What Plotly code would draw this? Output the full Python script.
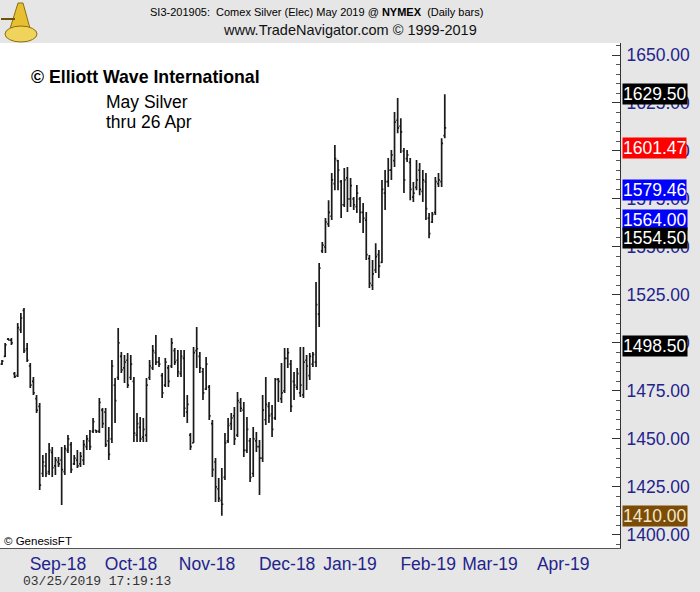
import plotly.graph_objects as go

# ---- data ----
highs = [1491.1, 1500.0, 1502.6, 1502.6, 1484.9, 1510.4, 1515.6, 1518.2, 1500.0, 1489.5,
         1482.3, 1472.9, 1468.7, 1441.6, 1442.7, 1447.9, 1445.8, 1440.6, 1440.6, 1445.8,
         1446.8, 1452.1, 1448.4, 1441.6, 1444.2, 1443.2, 1449.4, 1452.1, 1454.7, 1460.9,
         1454.7, 1471.3, 1466.1, 1466.1, 1456.2, 1491.1, 1481.7, 1507.8, 1495.3, 1493.7,
         1494.8, 1493.7, 1482.3, 1463.5, 1461.4, 1460.9, 1481.7, 1491.1, 1498.9, 1504.1,
         1492.7, 1484.3, 1492.2, 1488.5, 1502.6, 1497.4, 1496.3, 1496.3, 1496.3, 1472.9,
         1453.1, 1497.9, 1508.3, 1495.3, 1486.9, 1492.7, 1478.1, 1459.9, 1440.1, 1429.7,
         1434.9, 1453.1, 1460.9, 1463.5, 1466.6, 1474.4, 1471.3, 1469.2, 1461.4, 1450.5,
         1456.2, 1453.6, 1449.4, 1472.9, 1482.3, 1469.2, 1467.7, 1481.7, 1481.7, 1489.5,
         1497.4, 1497.4, 1491.1, 1484.9, 1486.9, 1497.9, 1497.9, 1493.7, 1494.8, 1495.3,
         1531.7, 1541.6, 1552.6, 1565.1, 1574.4, 1588.5, 1603.1, 1595.3, 1584.9, 1591.1,
         1591.6, 1585.9, 1576.0, 1582.3, 1576.0, 1572.9, 1568.2, 1545.8, 1543.2, 1552.0,
         1548.4, 1584.9, 1590.1, 1596.3, 1600.5, 1620.3, 1627.6, 1617.1, 1601.5, 1600.5,
         1596.3, 1583.8, 1595.3, 1593.7, 1590.1, 1588.5, 1567.7, 1568.2, 1586.4, 1588.5,
         1606.7, 1629.5]
lows = [1488.5, 1492.7, 1501.5, 1498.9, 1481.7, 1482.3, 1505.2, 1494.8, 1490.1, 1476.5,
        1472.9, 1463.5, 1423.4, 1430.2, 1430.2, 1431.2, 1430.2, 1431.2, 1435.4, 1415.6,
        1431.2, 1442.7, 1432.3, 1436.4, 1434.9, 1435.4, 1436.4, 1444.2, 1444.2, 1453.1,
        1453.1, 1453.1, 1455.7, 1445.8, 1439.0, 1447.9, 1458.3, 1480.7, 1484.3, 1479.1,
        1476.5, 1480.7, 1448.4, 1448.4, 1448.4, 1448.4, 1448.4, 1480.7, 1485.9, 1488.5,
        1487.5, 1471.3, 1477.0, 1477.0, 1486.9, 1488.5, 1482.3, 1482.3, 1461.4, 1458.3,
        1444.2, 1447.9, 1486.9, 1484.3, 1470.3, 1475.5, 1459.9, 1430.2, 1417.2, 1417.2,
        1410.0, 1428.6, 1447.9, 1454.7, 1446.8, 1451.0, 1464.0, 1440.6, 1442.7, 1427.6,
        1430.2, 1443.2, 1420.8, 1438.0, 1457.3, 1458.3, 1451.0, 1459.9, 1469.2, 1468.7,
        1473.9, 1486.9, 1464.0, 1470.3, 1475.5, 1471.8, 1471.3, 1475.5, 1480.7, 1487.5,
        1487.5, 1508.3, 1546.8, 1546.8, 1560.4, 1564.0, 1579.6, 1579.6, 1565.1, 1570.8,
        1568.2, 1570.8, 1569.2, 1567.7, 1562.5, 1557.3, 1543.2, 1528.6, 1527.6, 1536.4,
        1533.8, 1541.6, 1569.2, 1581.2, 1584.9, 1591.6, 1609.3, 1598.9, 1578.1, 1594.2,
        1574.4, 1573.4, 1579.6, 1577.0, 1573.4, 1564.0, 1554.6, 1562.5, 1566.7, 1581.2,
        1581.2, 1606.7]
opens = [1489.0, 1493.0, 1502.0, 1501.5, 1484.0, 1483.0, 1507.0, 1517.0, 1497.0, 1488.0,
         1480.0, 1471.0, 1467.0, 1432.0, 1436.0, 1433.0, 1443.0, 1436.0, 1438.0, 1439.0,
         1433.0, 1444.0, 1447.0, 1437.0, 1439.0, 1437.0, 1439.0, 1446.0, 1449.0, 1454.0,
         1454.5, 1454.0, 1465.0, 1464.0, 1449.0, 1450.0, 1478.0, 1482.0, 1493.0, 1487.0,
         1491.0, 1482.0, 1480.0, 1452.0, 1456.0, 1451.0, 1452.0, 1482.0, 1487.0, 1495.0,
         1490.0, 1483.0, 1478.0, 1487.0, 1488.0, 1496.0, 1491.0, 1484.0, 1492.0, 1464.0,
         1452.0, 1448.0, 1496.0, 1493.0, 1485.0, 1476.0, 1477.0, 1458.0, 1438.0, 1424.0,
         1418.0, 1430.0, 1449.0, 1458.0, 1462.0, 1452.0, 1469.0, 1465.0, 1444.0, 1449.0,
         1432.0, 1449.0, 1446.0, 1440.0, 1460.0, 1467.0, 1463.0, 1461.0, 1481.0, 1471.0,
         1475.0, 1492.0, 1489.0, 1480.0, 1477.0, 1474.0, 1473.0, 1491.0, 1483.0, 1489.0,
         1490.0, 1515.0, 1548.0, 1550.0, 1562.0, 1566.0, 1583.0, 1595.0, 1584.0, 1572.0,
         1586.0, 1575.0, 1575.0, 1571.0, 1575.0, 1568.0, 1564.0, 1544.0, 1530.0, 1538.0,
         1546.0, 1542.0, 1578.0, 1584.0, 1590.0, 1595.0, 1616.0, 1613.0, 1600.0, 1596.0,
         1594.0, 1576.0, 1581.0, 1590.0, 1579.0, 1584.0, 1565.0, 1563.0, 1568.0, 1583.0,
         1584.0, 1608.0]
closes = [1490.5, 1499.0, 1501.5, 1500.0, 1482.5, 1508.0, 1513.0, 1496.0, 1491.0, 1478.0,
          1474.0, 1465.0, 1426.0, 1438.0, 1432.0, 1444.0, 1435.0, 1439.0, 1437.0, 1434.0,
          1445.0, 1450.0, 1434.0, 1440.0, 1436.0, 1441.0, 1447.0, 1450.0, 1446.0, 1459.0,
          1454.0, 1469.0, 1458.0, 1447.0, 1442.0, 1488.0, 1470.0, 1500.0, 1486.0, 1490.0,
          1478.0, 1489.0, 1453.0, 1458.0, 1450.0, 1455.0, 1478.0, 1488.0, 1496.0, 1490.0,
          1489.0, 1474.0, 1490.0, 1480.0, 1500.0, 1490.0, 1485.0, 1493.0, 1466.0, 1468.0,
          1446.0, 1495.0, 1497.0, 1487.0, 1474.0, 1489.0, 1462.0, 1434.0, 1425.0, 1419.0,
          1416.0, 1448.0, 1457.0, 1461.0, 1450.0, 1470.0, 1466.0, 1444.0, 1455.0, 1430.0,
          1450.0, 1446.0, 1440.0, 1465.0, 1468.0, 1462.0, 1455.0, 1481.0, 1480.0, 1474.0,
          1492.0, 1495.0, 1467.0, 1478.0, 1484.0, 1478.0, 1490.0, 1488.0, 1493.0, 1494.0,
          1520.0, 1539.0, 1551.0, 1563.0, 1568.0, 1585.0, 1596.0, 1590.0, 1572.0, 1585.0,
          1575.0, 1582.0, 1572.0, 1578.0, 1568.0, 1565.0, 1546.0, 1531.0, 1536.0, 1545.0,
          1540.0, 1580.0, 1584.0, 1590.0, 1598.0, 1615.0, 1612.0, 1610.0, 1585.0, 1598.0,
          1580.0, 1578.0, 1585.0, 1580.0, 1585.0, 1570.0, 1557.0, 1567.0, 1584.0, 1585.0,
          1604.0, 1612.0]
bar_index = list(range(len(highs)))

month_labels = ["Sep-18", "Oct-18", "Nov-18", "Dec-18", "Jan-19", "Feb-19", "Mar-19", "Apr-19"]
month_positions = [17.8, 41.1, 65.3, 90.8, 110.8, 135.7, 155.4, 178.7]

price_ticks = [1400, 1425, 1450, 1475, 1500, 1525, 1550, 1575, 1600, 1625, 1650]
marker_prices = [1629.50, 1601.47, 1579.46, 1564.00, 1554.50, 1498.50, 1410.00]
marker_colors = ["#000000", "#ff0000", "#0000ff", "#0000ff", "#000000", "#000000", "#7a4c06"]
marker_text_colors = ["#ffffff", "#ffffff", "#ffffff", "#ffffff", "#ffffff", "#ffffff", "#f2e6cc"]

NAVY = "#23238c"
BG = "#e6e6e6"
PLOT_W = 620.0
PLOT_B = 548.0
PLOT_H = 505.0


def px_x(px):
    return px / PLOT_W


def px_y(py):
    return (PLOT_B - py) / PLOT_H


fig = go.Figure()
fig.add_trace(go.Ohlc(
    x=bar_index, open=opens, high=highs, low=lows, close=closes,
    increasing=dict(line=dict(color="#1a1a1a", width=1.7)),
    decreasing=dict(line=dict(color="#1a1a1a", width=1.7)),
    tickwidth=0.45, showlegend=False, hoverinfo="skip",
))

annotations = []
for p, bg, fc in zip(marker_prices, marker_colors, marker_text_colors):
    annotations.append(dict(
        x=1, xref="paper", y=p, yref="y", xanchor="left", yanchor="middle",
        xshift=2, text=f"{p:.2f}", showarrow=False, bgcolor=bg, borderpad=0,
        font=dict(family="Liberation Sans, Arial", size=17.5, color=fc),
    ))

TXT = "Liberation Sans, Arial"
annotations += [
    dict(x=px_x(316), y=px_y(12), xref="paper", yref="paper", showarrow=False,
         text="SI3-201905:  Comex Silver (Elec) May 2019 @ <b>NYMEX</b>  (Daily bars)",
         font=dict(family=TXT, size=11, color="#000000"),
         xanchor="center", yanchor="middle"),
    dict(x=px_x(350), y=px_y(30), xref="paper", yref="paper", showarrow=False,
         text="www.TradeNavigator.com © 1999-2019",
         font=dict(family=TXT, size=14.5, color="#111111"),
         xanchor="center", yanchor="middle"),
    dict(x=px_x(29), y=px_y(77), xref="paper", yref="paper", showarrow=False,
         text="<b>© Elliott Wave International</b>",
         font=dict(family=TXT, size=17.7, color="#000000"),
         xanchor="left", yanchor="middle"),
    dict(x=px_x(104), y=px_y(102), xref="paper", yref="paper", showarrow=False,
         text="May Silver",
         font=dict(family=TXT, size=17.5, color="#000000"),
         xanchor="left", yanchor="middle"),
    dict(x=px_x(104), y=px_y(122), xref="paper", yref="paper", showarrow=False,
         text="thru 26 Apr",
         font=dict(family=TXT, size=17.5, color="#000000"),
         xanchor="left", yanchor="middle"),
    dict(x=px_x(2), y=px_y(541), xref="paper", yref="paper", showarrow=False,
         text="© GenesisFT",
         font=dict(family=TXT, size=11.5, color="#000000"),
         xanchor="left", yanchor="middle"),
    dict(x=px_x(21), y=px_y(581), xref="paper", yref="paper", showarrow=False,
         text="03/25/2019 17:19:13",
         font=dict(family="Liberation Mono, DejaVu Sans Mono", size=13, color="#333333"),
         xanchor="left", yanchor="middle"),
]

# simple golden sextant-like logo (decorative)
shapes = [
    dict(type="path", xref="paper", yref="paper",
         path=f"M {px_x(18)} {px_y(3)} L {px_x(23)} {px_y(3)} L {px_x(31)} {px_y(32)} L {px_x(9)} {px_y(32)} Z",
         fillcolor="#e6c030", line=dict(color="#8c6c10", width=1)),
    dict(type="circle", xref="paper", yref="paper",
         x0=px_x(5), x1=px_x(37), y0=px_y(42), y1=px_y(26),
         fillcolor="#efd35a", line=dict(color="#8c6c10", width=1)),
    dict(type="line", xref="paper", yref="paper",
         x0=px_x(1), x1=px_x(15), y0=px_y(19), y1=px_y(19),
         line=dict(color="#6e5208", width=2)),
]

fig.update_layout(
    width=700, height=592,
    margin=dict(l=0, r=80, t=43, b=44),
    paper_bgcolor=BG, plot_bgcolor="#ffffff",
    annotations=annotations, shapes=shapes,
    xaxis=dict(
        range=[-0.64, 196.8], rangeslider=dict(visible=False),
        tickmode="array", tickvals=month_positions, ticktext=month_labels,
        ticks="", showgrid=False, zeroline=False,
        showline=True, linecolor="#555555", linewidth=1, mirror=False,
        tickfont=dict(family=TXT, size=17.5, color=NAVY),
    ),
    yaxis=dict(
        side="right", range=[1393.2, 1656.25],
        tickmode="array", tickvals=price_ticks,
        ticktext=[f"{v:.2f}" for v in price_ticks],
        ticks="inside", ticklen=8, tickcolor="#333333", tickwidth=1,
        minor=dict(dtick=5, tick0=1400, ticks="inside", ticklen=4, tickcolor="#555555", showgrid=False),
        showgrid=False, zeroline=False,
        showline=True, linecolor="#333333", linewidth=1,
        ticklabelstandoff=2,
        tickfont=dict(family=TXT, size=17.5, color=NAVY),
    ),
)

fig.write_html(
    "out.html",
    config={"displayModeBar": False},
    post_script="document.body.style.margin='0px';document.body.style.padding='0px';",
)
